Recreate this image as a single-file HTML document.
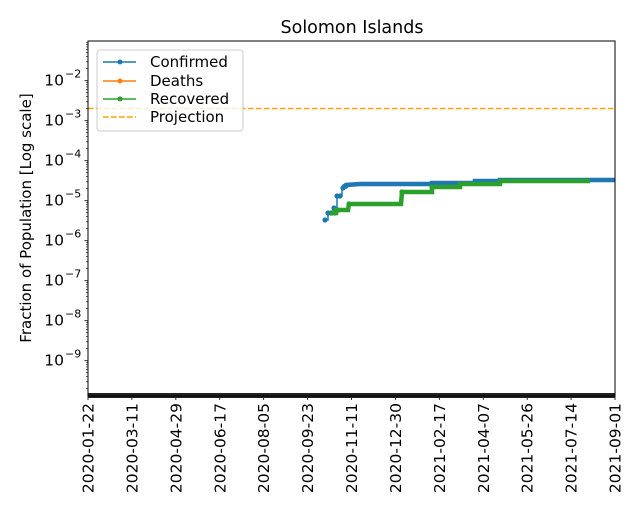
<!DOCTYPE html>
<html><head><meta charset="utf-8"><style>
html,body{margin:0;padding:0;background:#fff;}
svg{display:block;font-family:"DejaVu Sans","Liberation Sans",sans-serif;}
</style></head><body>
<svg id="s" width="640" height="520" viewBox="0 0 640 520" xmlns="http://www.w3.org/2000/svg">
<rect width="640" height="520" fill="#fff"/>
<text x="352" y="33" font-size="17.5" text-anchor="middle">Solomon Islands</text>
<g id="ticks"></g>
<line x1="88" y1="108.5" x2="615" y2="108.5" stroke="#ffa500" stroke-width="1.5" stroke-dasharray="5.5,2.5"/>
<polyline fill="none" stroke="#1f77b4" stroke-width="1.5" points="325,220 328,220 328,213 333,213 333,208 337,208 337,196 342,196 342,188 346,188 346,185 360,185 360,184 432,184 432,183 475,183 475,181 500,181 500,180 615,180"/>
<polyline fill="none" stroke="#1f77b4" stroke-width="4.5" points="343,187 346,185 360,184 432,184 432,183 475,183 475,181 500,181 500,180 615,180"/>
<g fill="#1f77b4"><circle cx="325" cy="220" r="2.6"/><circle cx="328" cy="213" r="2.6"/><circle cx="331" cy="213" r="2.6"/><circle cx="334" cy="208" r="2.6"/><circle cx="337" cy="196" r="2.6"/><circle cx="340" cy="196" r="2.6"/><circle cx="343" cy="188" r="2.6"/><circle cx="346" cy="186" r="2.6"/></g>
<polyline fill="none" stroke="#2ca02c" stroke-width="1.5" points="332,213 336,213 336,210 349,210 349,204 402,204 402,192 432,192 432,187 460,187 460,184 500,184 500,181 590,181"/>
<polyline fill="none" stroke="#2ca02c" stroke-width="4.5" points="332,213 336,213 336,210 348,210 349,204 401,204 402,192 432,192 432,187 460,187 460,184 500,184 500,181 590,181"/>
<g fill="#2ca02c"><circle cx="332" cy="213" r="2.6"/><circle cx="335" cy="213" r="2.6"/><circle cx="338" cy="210" r="2.6"/><circle cx="349" cy="204" r="2.6"/><circle cx="402" cy="192" r="2.6"/><circle cx="432" cy="187" r="2.6"/></g>
<rect x="88" y="393" width="527" height="5" fill="#222"/>
<rect x="88" y="41" width="527" height="355" fill="none" stroke="#000" stroke-width="1"/>
<rect x="97" y="50" width="146" height="81" rx="3" fill="#fff" fill-opacity="0.8" stroke="#ccc" stroke-width="1"/>
<g font-size="15">
<line x1="103" y1="62" x2="136" y2="62" stroke="#1f77b4" stroke-width="1.5"/><circle cx="120" cy="62" r="2.5" fill="#1f77b4"/>
<text x="150" y="67">Confirmed</text>
<line x1="103" y1="81" x2="136" y2="81" stroke="#ff7f0e" stroke-width="1.5"/><circle cx="120" cy="81" r="2.5" fill="#ff7f0e"/>
<text x="150" y="86">Deaths</text>
<line x1="103" y1="99" x2="136" y2="99" stroke="#2ca02c" stroke-width="1.5"/><circle cx="120" cy="99" r="2.5" fill="#2ca02c"/>
<text x="150" y="104">Recovered</text>
<line x1="103" y1="117" x2="136" y2="117" stroke="#ffa500" stroke-width="1.5" stroke-dasharray="5.5,2.5"/>
<text x="150" y="122">Projection</text>
</g>
<text transform="translate(31,218) rotate(-90)" font-size="15" text-anchor="middle">Fraction of Population [Log scale]</text>
</svg>
<script>
var g=document.getElementById('ticks'),h='';
for(var e=-2;e>=-9;e--){var y=80.7+(-2-e)*40;
 h+='<line x1="84.5" y1="'+y+'" x2="88" y2="'+y+'" stroke="#000" stroke-width="0.8"/>';
 h+='<text x="64" y="'+(y+5)+'" font-size="15.5" text-anchor="end">10</text><text x="65" y="'+(y-3)+'" font-size="11">\u2212'+(-e)+'</text>';
}
for(var d=-1;d>=-10;d--){for(var k=2;k<=9;k++){var y=80.7+(-2-d)*40-Math.log10(k)*40+40;
 if(y>41&&y<393)h+='<line x1="86" y1="'+y.toFixed(1)+'" x2="88" y2="'+y.toFixed(1)+'" stroke="#000" stroke-width="0.6"/>';}}
var lab=['2020-01-22','2020-03-11','2020-04-29','2020-06-17','2020-08-05','2020-09-23','2020-11-11','2020-12-30','2021-02-17','2021-04-07','2021-05-26','2021-07-14','2021-09-01'];
for(var i=0;i<13;i++){var x=88+i*527/12;
 h+='<line x1="'+x+'" y1="396" x2="'+x+'" y2="400" stroke="#000" stroke-width="0.8"/>';
 h+='<text transform="translate('+(x+5.5)+',403) rotate(-90)" font-size="15.5" text-anchor="end">'+lab[i]+'</text>';}
g.innerHTML=h;
</script>
</body></html>
